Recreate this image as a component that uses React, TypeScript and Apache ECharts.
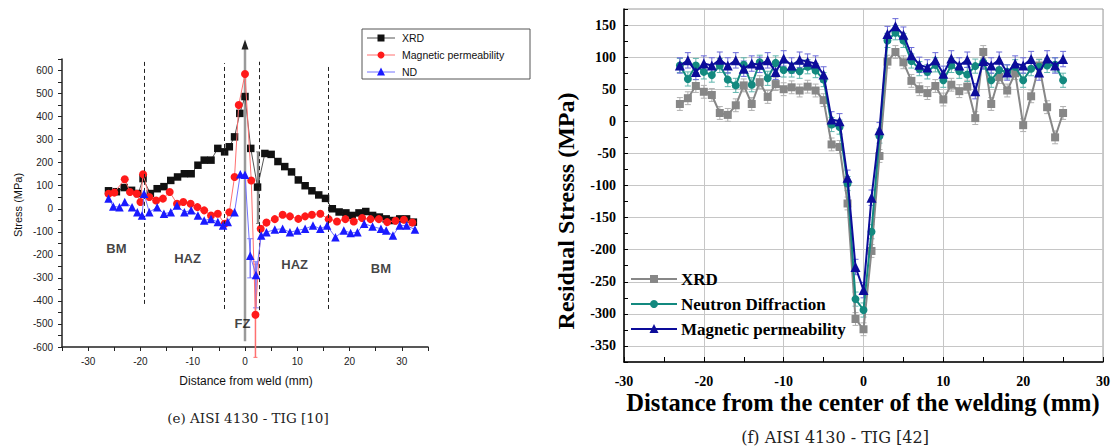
import React, { useEffect, useRef } from 'react';
import * as echarts from 'echarts';

// ---------- Left panel (e) data ----------
const leftXrdX = [-26.1, -24.6, -23.1, -21.7, -20.4, -19.5, -18.1, -16.8, -15.5, -14.2, -12.9, -11.6, -10.3, -9.0, -7.8, -6.5, -5.2, -3.9, -3.0, -2.0, -1.0, 0, 1.1, 2.4, 3.8, 5.0, 6.3, 7.6, 8.9, 10.2, 11.5, 12.8, 14.1, 15.4, 16.7, 18.0, 19.3, 20.5, 21.8, 23.1, 24.4, 25.7, 27.0, 28.3, 29.6, 30.9, 32.2];
const leftXrdY = [78, 74, 92, 80, 66, 131, 66, 87, 96, 123, 138, 152, 152, 189, 211, 211, 262, 247, 269, 312, 414, 487, 262, 94, 240, 236, 205, 183, 160, 125, 100, 78, 60, 45, 0, -14, -18, -29, -18, -12, -29, -36, -44, -51, -44, -44, -58];

const leftMagX = [-26.1, -25.0, -23.0, -22.0, -20.7, -20.0, -19.5, -18.3, -17.0, -15.7, -14.4, -13.0, -11.8, -10.4, -9.1, -7.8, -6.5, -5.2, -3.9, -3.0, -2.0, -1.2, 0, 1.2, 2.0, 3.0, 4.1, 5.7, 7.2, 8.6, 10.2, 11.5, 12.8, 14.4, 16.0, 17.6, 19.2, 20.8, 22.4, 24.0, 25.6, 27.2, 28.8, 30.4, 32.0];
const leftMagY = [65, 70, 128, 73, 65, 29, 150, 51, 36, 44, 73, 22, 29, 22, 7, -7, -29, -22, -65, -15, 138, 450, 585, 123, -460, -87, -60, -45, -26, -33, -44, -33, -26, -22, -45, -55, -45, -55, -40, -45, -45, -58, -52, -48, -60];

const leftNdX = [-26.1, -25.2, -24.0, -23.0, -21.6, -20.6, -19.7, -19.3, -18.3, -16.8, -15.5, -14.2, -13.0, -11.6, -10.3, -9.0, -7.8, -6.5, -5.2, -4.2, -3.3, -2.0, -0.9, 0, 1.0, 2.1, 3.1, 4.1, 5.7, 7.2, 8.6, 10.0, 11.5, 13.0, 14.4, 15.7, 17.3, 18.9, 20.2, 21.5, 22.8, 24.4, 26.0, 27.0, 28.3, 29.6, 30.9, 32.5];
const leftNdY = [44, 10, 7, 29, 7, -15, -29, 65, -15, 7, -22, -15, 14, -15, -7, -29, -51, -44, -58, -73, -58, -15, 150, 148, -204, -287, -116, -102, -90, -87, -102, -94, -87, -73, -87, -73, -124, -94, -105, -102, -65, -77, -87, -94, -116, -73, -73, -90];

// error bars on the left panel: [x, low, high]
const leftXrdErr = [[2.5, -64, 247]];
const leftMagErr = [[2.0, -645, -240]];
const leftNdErr = [[1.0, -300, -130], [2.1, -430, -230]];
const fzArrow = [[0, -575, 735]];

const zoneX = [-19.3, -3.9, 2.7, 16.0];
const zoneTop = [647, 632, 638, 625];
const zoneBottom = [-413, -435, -440, -435];

const regionNames = ['BM', 'HAZ', 'FZ', 'HAZ', 'BM'];
const regionX = [-24.6, -11, -0.5, 9.5, 26];
const regionY = [-173, -217, -496, -243, -260];

const leftLegendNames = ['XRD', 'Magnetic permeability', 'ND'];

// ---------- Right panel (f) data ----------
const rightDist = [-23, -22, -21, -20, -19, -18, -17, -16, -15, -14, -13, -12, -11, -10, -9, -8, -7, -6, -5, -4, -3, -2, -1, 0, 1, 2, 3, 4, 5, 6, 7, 8, 9, 10, 11, 12, 13, 14, 15, 16, 17, 18, 19, 20, 21, 22, 23, 24, 25];
const rightXrd = [27, 36, 55, 46, 41, 13, 10, 25, 56, 27, 61, 38, 58, 50, 53, 48, 54, 48, 33, -36, -40, -128, -308, -324, -202, -54, 93, 108, 92, 63, 50, 44, 55, 34, 57, 47, 54, 5, 108, 27, 69, 48, 75, -6, 39, 87, 22, -25, 13];
const rightNd = [87, 66, 87, 77, 72, 87, 65, 56, 88, 57, 92, 67, 91, 80, 80, 78, 85, 79, 65, -5, -9, -97, -277, -294, -172, -23, 126, 138, 126, 94, 82, 77, 88, 64, 87, 78, 73, 86, 92, 64, 80, 77, 85, 64, 82, 85, 87, 88, 64];
const rightMp = [87, 95, 77, 90, 87, 96, 87, 95, 82, 90, 88, 95, 77, 98, 87, 96, 93, 90, 73, 3, 0, -88, -227, -263, -119, -14, 136, 148, 135, 103, 88, 84, 95, 74, 98, 87, 96, 47, 94, 87, 96, 76, 90, 87, 97, 76, 98, 87, 97];
const errXrd = 10;
const errNd = 11;
const errMp = 12;

const rightLegendNames = ['XRD', 'Neutron Diffraction', 'Magnetic permeability'];

const SANS = 'Liberation Sans';
const SERIF = 'Liberation Serif';

const pair = (xs: number[], ys: number[]) => xs.map((x, i) => [x, ys[i]]);

const errRender = (color: string, cap: number, width: number) => (params: any, api: any) => {
  const x = api.value(0);
  const lo = api.value(1);
  const hi = api.value(2);
  const p1 = api.coord([x, hi]);
  const p2 = api.coord([x, lo]);
  return {
    type: 'group',
    children: [
      { type: 'line', shape: { x1: p1[0], y1: p1[1], x2: p2[0], y2: p2[1] }, style: { stroke: color, lineWidth: width } },
      { type: 'line', shape: { x1: p1[0] - cap, y1: p1[1], x2: p1[0] + cap, y2: p1[1] }, style: { stroke: color, lineWidth: 1 } },
      { type: 'line', shape: { x1: p2[0] - cap, y1: p2[1], x2: p2[0] + cap, y2: p2[1] }, style: { stroke: color, lineWidth: 1 } },
    ],
  };
};

const markerEl = (sym: string, cx: number, cy: number, size: number, color: string) => {
  if (sym === 'rect') return { type: 'rect', z: 100, shape: { x: cx - size / 2, y: cy - size / 2, width: size, height: size }, style: { fill: color } };
  if (sym === 'circle') return { type: 'circle', z: 100, shape: { cx, cy, r: size / 2 }, style: { fill: color } };
  return { type: 'polygon', z: 100, shape: { points: [[cx, cy - size / 2 - 1], [cx + size / 2 + 0.5, cy + size / 2], [cx - size / 2 - 0.5, cy + size / 2]] }, style: { fill: color } };
};

const textEl = (text: string, x: number, y: number, font: string, opts: any = {}) => ({
  type: 'text', z: 100, x, y, rotation: opts.rotation || 0,
  style: { text, font, fill: opts.fill || '#111', align: opts.align || 'center', verticalAlign: 'middle', textAlign: opts.align || 'center', textVerticalAlign: 'middle' },
});

export default function App() {
  const ref = useRef<HTMLDivElement>(null);
  useEffect(() => {
    const chart = echarts.init(ref.current!, null, { renderer: 'svg' });

    const leftColors = ['#111111', '#ff1a1a', '#1a1aff'];
    const leftSyms = ['rect', 'circle', 'triangle'];
    const leftLine = ['#555555', '#ff7070', '#7373ff'];
    const rightColors = ['#878787', '#13897f', '#0c0c9a'];
    const rightSyms = ['rect', 'circle', 'triangle'];

    const graphic: any[] = [];
    // left legend
    graphic.push({ type: 'rect', z: 99, shape: { x: 362, y: 29, width: 168, height: 50 }, style: { fill: '#fff', stroke: '#555', lineWidth: 1 } });
    leftLegendNames.forEach((n, i) => {
      const y = 38 + i * 17;
      graphic.push({ type: 'line', z: 100, shape: { x1: 367, y1: y, x2: 395, y2: y }, style: { stroke: leftLine[i], lineWidth: 1 } });
      graphic.push(markerEl(leftSyms[i], 381, y, 7, leftColors[i]));
      graphic.push(textEl(n, 402, y, `10.5px "${SANS}"`, { align: 'left', fill: '#111' }));
    });
    // right legend
    rightLegendNames.forEach((n, i) => {
      const y = 279 + i * 25;
      graphic.push({ type: 'line', z: 100, shape: { x1: 631, y1: y, x2: 677, y2: y }, style: { stroke: rightColors[i], lineWidth: 2 } });
      graphic.push(markerEl(rightSyms[i], 654, y, 8, rightColors[i]));
      graphic.push(textEl(n, 681, y, `bold 17px "${SERIF}"`, { align: 'left', fill: '#000' }));
    });
    // axis titles and captions
    graphic.push(textEl('Stress (MPa)', 18, 205, `11px "${SANS}"`, { rotation: Math.PI / 2 }));
    graphic.push(textEl('Distance from weld (mm)', 246, 381, `12px "${SANS}"`));
    graphic.push(textEl('Residual Stresss (MPa)', 566, 211, `bold 24px "${SERIF}"`, { rotation: Math.PI / 2, fill: '#000' }));
    graphic.push(textEl('Distance from the center of the welding (mm)', 863, 402, `bold 24.5px "${SERIF}"`, { fill: '#000' }));
    graphic.push(textEl('(e) AISI 4130 - TIG [10]', 248, 418, `13.5px "DejaVu Serif"`, { fill: '#222' }));
    graphic.push(textEl('(f) AISI 4130 - TIG [42]', 835, 437, `16px "DejaVu Serif"`, { fill: '#222' }));

    const option: any = {
      animation: false,
      backgroundColor: '#ffffff',
      grid: [
        { left: 62, top: 59, width: 366, height: 288, show: false },
        { left: 624, top: 9, width: 480, height: 353, show: true, borderColor: '#9a9a9a', borderWidth: 1, backgroundColor: 'transparent' },
      ],
      xAxis: [
        {
          gridIndex: 0, type: 'value', min: -35, max: 35, interval: 5,
          axisLine: { show: true, onZero: false, lineStyle: { color: '#222', width: 1.5 } },
          axisTick: { show: true, length: 4, lineStyle: { color: '#222' } },
          axisLabel: { formatter: (v: number) => (v % 10 === 0 && Math.abs(v) < 35 ? String(v) : ''), fontFamily: SANS, fontSize: 10, color: '#222', margin: 9 },
          splitLine: { show: false },
        },
        {
          gridIndex: 1, type: 'value', min: -30, max: 30, interval: 10,
          axisLine: { show: true, onZero: false, lineStyle: { color: '#000', width: 1.5 } },
          axisTick: { show: true, inside: true, length: 5, lineStyle: { color: '#000' } },
          minorTick: { show: true, splitNumber: 2, length: 5, lineStyle: { color: '#000' } },
          axisLabel: { fontFamily: SERIF, fontWeight: 'bold', fontSize: 14, color: '#000', margin: 12 },
          splitLine: { show: true, lineStyle: { color: '#c6c6c6', width: 1 } },
        },
      ],
      yAxis: [
        {
          gridIndex: 0, type: 'value', min: -600, max: 650, interval: 50,
          axisLine: { show: true, onZero: false, lineStyle: { color: '#222', width: 1.5 } },
          axisTick: { show: true, length: 4, lineStyle: { color: '#222' } },
          axisLabel: { formatter: (v: number) => (v % 100 === 0 && v <= 600 ? String(v) : ''), fontFamily: SANS, fontSize: 10, color: '#222', margin: 9 },
          splitLine: { show: false },
        },
        {
          gridIndex: 1, type: 'value', min: -375, max: 175, interval: 25,
          axisLine: { show: true, onZero: false, lineStyle: { color: '#000', width: 1.5 } },
          axisTick: { show: true, inside: true, length: 4, lineStyle: { color: '#000' } },
          axisLabel: { formatter: (v: number) => (v % 50 === 0 && v >= -350 && v <= 150 ? String(v) : ''), fontFamily: SERIF, fontWeight: 'bold', fontSize: 14, color: '#000', margin: 8 },
          splitLine: { show: true, lineStyle: { color: ['transparent', '#c6c6c6'], width: 1 } },
        },
      ],
      series: [
        // zone dashed lines
        {
          type: 'line', xAxisIndex: 0, yAxisIndex: 0, data: [], silent: true,
          markLine: {
            silent: true, symbol: ['none', 'none'], label: { show: false }, animation: false,
            lineStyle: { type: [4, 3], color: '#222', width: 1 },
            data: zoneX.map((x, i) => [{ coord: [x, zoneBottom[i]] }, { coord: [x, zoneTop[i]] }]),
          },
        },
        {
          type: 'custom', xAxisIndex: 0, yAxisIndex: 0, clip: false, silent: true, z: 1,
          data: fzArrow, encode: { x: 0, y: [1, 2] },
          renderItem: (params: any, api: any) => {
            const x = api.value(0);
            const p1 = api.coord([x, api.value(1)]);
            const p2 = api.coord([x, api.value(2)]);
            return {
              type: 'group', children: [
                { type: 'line', shape: { x1: p1[0], y1: p1[1], x2: p2[0], y2: p2[1] + 8 }, style: { stroke: '#9a9a9a', lineWidth: 2.5 } },
                { type: 'polygon', shape: { points: [[p2[0], p2[1]], [p2[0] - 3.5, p2[1] + 10], [p2[0] + 3.5, p2[1] + 10]] }, style: { fill: '#222' } },
              ],
            };
          },
        },
        { type: 'custom', xAxisIndex: 0, yAxisIndex: 0, clip: false, silent: true, z: 1, data: leftXrdErr, encode: { x: 0, y: [1, 2] }, renderItem: errRender('#8a8a8a', 2, 2.5) },
        { type: 'custom', xAxisIndex: 0, yAxisIndex: 0, clip: false, silent: true, z: 1, data: leftMagErr, encode: { x: 0, y: [1, 2] }, renderItem: errRender('#ff7070', 2, 1.5) },
        { type: 'custom', xAxisIndex: 0, yAxisIndex: 0, clip: false, silent: true, z: 1, data: leftNdErr, encode: { x: 0, y: [1, 2] }, renderItem: errRender('#7d7dff', 3, 1.5) },
        {
          name: 'XRD', type: 'line', xAxisIndex: 0, yAxisIndex: 0, data: pair(leftXrdX, leftXrdY),
          symbol: 'rect', symbolSize: 7.5, itemStyle: { color: leftColors[0] }, lineStyle: { color: leftLine[0], width: 1 }, z: 3,
        },
        {
          name: 'Magnetic permeability', type: 'line', xAxisIndex: 0, yAxisIndex: 0, data: pair(leftMagX, leftMagY),
          symbol: 'circle', symbolSize: 8, itemStyle: { color: leftColors[1] }, lineStyle: { color: leftLine[1], width: 1 }, z: 4,
        },
        {
          name: 'ND', type: 'line', xAxisIndex: 0, yAxisIndex: 0, data: pair(leftNdX, leftNdY),
          symbol: 'triangle', symbolSize: 8.5, itemStyle: { color: leftColors[2] }, lineStyle: { color: leftLine[2], width: 1 }, z: 5,
        },
        {
          type: 'scatter', xAxisIndex: 0, yAxisIndex: 0, silent: true, symbolSize: 1, itemStyle: { color: 'rgba(0,0,0,0)' }, z: 6,
          data: regionNames.map((n, i) => ({ name: n, value: [regionX[i], regionY[i]] })),
          label: { show: true, position: 'inside', formatter: (p: any) => p.name, fontFamily: SANS, fontWeight: 'bold', fontSize: 13, color: '#111' },
        },
        // right panel error bars
        { type: 'custom', xAxisIndex: 1, yAxisIndex: 1, silent: true, z: 1, data: rightDist.map((x, i) => [x, rightXrd[i] - errXrd, rightXrd[i] + errXrd]), encode: { x: 0, y: [1, 2] }, renderItem: errRender('#b0b0b0', 3, 1) },
        { type: 'custom', xAxisIndex: 1, yAxisIndex: 1, silent: true, z: 1, data: rightDist.map((x, i) => [x, rightNd[i] - errNd, rightNd[i] + errNd]), encode: { x: 0, y: [1, 2] }, renderItem: errRender('#5fb5ad', 3, 1) },
        { type: 'custom', xAxisIndex: 1, yAxisIndex: 1, silent: true, z: 1, data: rightDist.map((x, i) => [x, rightMp[i] - errMp, rightMp[i] + errMp]), encode: { x: 0, y: [1, 2] }, renderItem: errRender('#6a6ad8', 3, 1) },
        {
          name: 'XRD (f)', type: 'line', xAxisIndex: 1, yAxisIndex: 1, data: pair(rightDist, rightXrd),
          symbol: 'rect', symbolSize: 8, itemStyle: { color: rightColors[0] }, lineStyle: { color: rightColors[0], width: 2 }, z: 3,
        },
        {
          name: 'Neutron Diffraction', type: 'line', xAxisIndex: 1, yAxisIndex: 1, data: pair(rightDist, rightNd),
          symbol: 'circle', symbolSize: 8, itemStyle: { color: rightColors[1] }, lineStyle: { color: rightColors[1], width: 2 }, z: 4,
        },
        {
          name: 'Magnetic permeability (f)', type: 'line', xAxisIndex: 1, yAxisIndex: 1, data: pair(rightDist, rightMp),
          symbol: 'triangle', symbolSize: 10, itemStyle: { color: rightColors[2] }, lineStyle: { color: rightColors[2], width: 2 }, z: 5,
        },
      ],
      graphic,
    };
    chart.setOption(option);
    return () => chart.dispose();
  }, []);
  return <div ref={ref} style={{ position: 'fixed', left: 0, top: 0, width: 1113, height: 448, background: '#fff' }} />;
}
